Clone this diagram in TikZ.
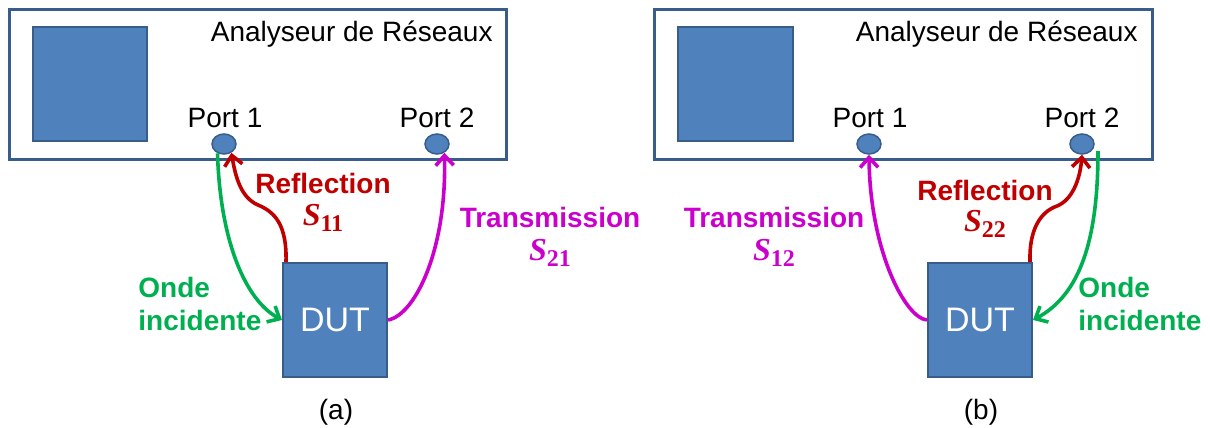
\documentclass[tikz,border=0pt]{standalone}
\usepackage{fontspec}
\setmainfont{Liberation Sans}
\newfontfamily\sparamfont{Liberation Serif}
\usetikzlibrary{arrows.meta,shapes.geometric}
\definecolor{boxblue}{HTML}{4F81BD}
\definecolor{boxedge}{HTML}{385D8A}
\definecolor{reflred}{HTML}{C00000}
\definecolor{incgreen}{HTML}{00B050}
\definecolor{transmag}{HTML}{CC00CC}
\newcommand{\sparam}[1]{{\sparamfont\bfseries\itshape\fontsize{16}{18}\selectfont S}\raisebox{-3pt}{\sparamfont\bfseries\fontsize{12}{13}\selectfont #1}}
\tikzset{
	analyser/.style={draw=boxedge, line width=1.5pt},
	screen/.style={draw=boxedge, fill=boxblue, line width=1pt},
	port/.style={ellipse, draw=boxedge, fill=boxblue, line width=0.75pt, minimum width=12pt, minimum height=10pt, inner sep=0pt},
	dut/.style={draw=boxedge, fill=boxblue, line width=1pt, minimum width=52pt, minimum height=57pt, text=white, font=\fontsize{17}{20}\selectfont},
	wave/.style={line width=1.8pt, -{Straight Barb[length=5pt,width=9pt]}},
	lbl/.style={font=\fontsize{14}{16}\selectfont, inner sep=0pt},
	wlbl/.style={font=\fontsize{14}{17}\selectfont\bfseries, inner sep=0pt},
}
\begin{document}
\begin{tikzpicture}[x=0.5pt, y=-0.5pt]
		\useasboundingbox (0,0) rectangle (1210,428);
		
		%%%%% (a) %%%%%
		\draw[analyser] (9, 9) rectangle (506, 159);
		\draw[screen] (33, 27) rectangle (147, 141);
		\node[lbl, anchor=base east] (titleA) at (493, 41.5) {Analyseur de Réseaux};
		\node[lbl, anchor=base] (port1A) at (225, 127.5) {Port 1};
		\node[lbl, anchor=base] (port2A) at (437, 127.5) {Port 2};
		\node[port] (p1a) at (224, 144) {};
		\node[port] (p2a) at (437, 144) {};
		\node[dut] (dutA) at (335, 320) {DUT};
		
		\draw[wave, incgreen] (p1a.235) .. controls (220, 240) and (245, 300) .. (dutA.west);
		\draw[wave, reflred] ([xshift=2pt]dutA.north west) .. controls (287, 225) and (275, 212) .. (258, 205)
			.. controls (242, 198) and (236, 180) .. (p1a.-50);
		\draw[wave, transmag] (dutA.east) .. controls (415, 315) and (447, 250) .. (p2a.-50);
		
		\node[wlbl, text=reflred, anchor=base] (reflA) at (323, 193) {Reflection};
		\node[wlbl, text=reflred, anchor=base] (s11) at (323, 225) {\sparam{11}};
		\node[wlbl, text=transmag, anchor=base] (transA) at (550, 227) {Transmission};
		\node[wlbl, text=transmag, anchor=base] (s21) at (550, 260) {\sparam{21}};
		\node[wlbl, text=incgreen, anchor=base west] (ondeA) at (138, 297) {Onde};
		\node[wlbl, text=incgreen, anchor=base west] (incA) at (138, 330) {incidente};
		\node[lbl, anchor=base] (capA) at (336, 419) {(a)};
		
		%%%%% (b) %%%%%
		\draw[analyser] (654, 9) rectangle (1152, 159);
		\draw[screen] (678, 27) rectangle (793, 141);
		\node[lbl, anchor=base east] (titleB) at (1138, 41.5) {Analyseur de Réseaux};
		\node[lbl, anchor=base] (port1B) at (870, 127.5) {Port 1};
		\node[lbl, anchor=base] (port2B) at (1082, 127.5) {Port 2};
		\node[port] (p1b) at (869, 144) {};
		\node[port] (p2b) at (1082, 144) {};
		\node[dut] (dutB) at (980, 320) {DUT};
		\coordinate (g2b) at (1098, 151);
		
		\draw[wave, transmag] (dutB.west) .. controls (905, 318) and (870, 250) .. (p1b.south);
		\draw[wave, reflred] ([xshift=-1.5pt]dutB.north east) .. controls (1029, 230) and (1040, 212) .. (1057, 206)
			.. controls (1072, 200) and (1080, 180) .. (p2b.south);
		\draw[wave, incgreen] (g2b) .. controls (1098, 240) and (1080, 295) .. (dutB.east);
		
		\node[wlbl, text=reflred, anchor=base] (reflB) at (985, 200) {Reflection};
		\node[wlbl, text=reflred, anchor=base] (s22) at (985, 231) {\sparam{22}};
		\node[wlbl, text=transmag, anchor=base] (transB) at (774, 227) {Transmission};
		\node[wlbl, text=transmag, anchor=base] (s12) at (774, 260) {\sparam{12}};
		\node[wlbl, text=incgreen, anchor=base west] (ondeB) at (1078, 297) {Onde};
		\node[wlbl, text=incgreen, anchor=base west] (incB) at (1078, 330) {incidente};
		\node[lbl, anchor=base] (capB) at (981, 419) {(b)};
	\end{tikzpicture}
\end{document}
